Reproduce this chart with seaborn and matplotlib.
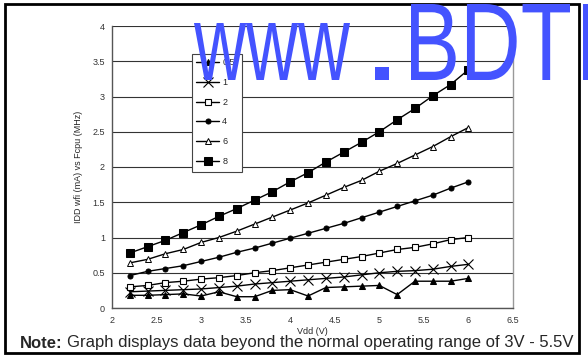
import numpy as np
import seaborn as sns
import matplotlib.pyplot as plt
import matplotlib.transforms as mtrans
from matplotlib.textpath import TextPath
from matplotlib.patches import PathPatch, Rectangle
from matplotlib.font_manager import FontProperties

# Vdd sweep (V) and IDD in wait mode (mA) for each Fcpu (MHz)
vdd = [2.2, 2.4, 2.6, 2.8, 3.0, 3.2, 3.4, 3.6, 3.8, 4.0,
       4.2, 4.4, 4.6, 4.8, 5.0, 5.2, 5.4, 5.6, 5.8, 6.0]
idd_05 = [0.18, 0.18, 0.19, 0.20, 0.17, 0.23, 0.16, 0.16, 0.25, 0.26,
          0.17, 0.29, 0.30, 0.31, 0.32, 0.19, 0.38, 0.38, 0.38, 0.42]
idd_1 = [0.23, 0.24, 0.25, 0.26, 0.27, 0.29, 0.31, 0.34, 0.36, 0.38,
         0.40, 0.42, 0.44, 0.47, 0.50, 0.52, 0.53, 0.55, 0.59, 0.62]
idd_2 = [0.30, 0.32, 0.36, 0.38, 0.41, 0.43, 0.46, 0.50, 0.53, 0.57,
         0.61, 0.65, 0.69, 0.73, 0.78, 0.83, 0.86, 0.91, 0.97, 1.00]
idd_4 = [0.46, 0.52, 0.56, 0.60, 0.66, 0.72, 0.79, 0.85, 0.92, 0.99,
         1.06, 1.13, 1.20, 1.28, 1.36, 1.44, 1.52, 1.60, 1.70, 1.79]
idd_6 = [0.64, 0.69, 0.77, 0.83, 0.93, 1.00, 1.09, 1.19, 1.29, 1.39,
         1.49, 1.60, 1.71, 1.81, 1.94, 2.05, 2.17, 2.29, 2.43, 2.56]
idd_8 = [0.78, 0.87, 0.96, 1.07, 1.18, 1.30, 1.41, 1.53, 1.65, 1.79,
         1.92, 2.07, 2.21, 2.35, 2.50, 2.67, 2.83, 3.01, 3.17, 3.38]
labels = ["0.5", "1", "2", "4", "6", "8"]

xticks = [2, 2.5, 3, 3.5, 4, 4.5, 5, 5.5, 6, 6.5]
xtick_labels = ["2", "2.5", "3", "3.5", "4", "4.5", "5", "5.5", "6", "6.5"]
yticks = [0, 0.5, 1, 1.5, 2, 2.5, 3, 3.5, 4]
ytick_labels = ["0", "0.5", "1", "1.5", "2", "2.5", "3", "3.5", "4"]

sns.set_style("white")
plt.rcParams['font.family'] = ['Liberation Sans', 'DejaVu Sans']

W, H = 588, 358
fig = plt.figure(figsize=(W / 100, H / 100), dpi=100)
ax = fig.add_axes([112 / W, 1 - 308 / H, (513 - 112) / W, (308 - 26) / H])

styles = [
    dict(marker='^', markersize=5, markerfacecolor='black', markeredgecolor='black'),
    dict(marker='x', markersize=6.5, markerfacecolor='black', markeredgecolor='black', markeredgewidth=0.8),
    dict(marker='s', markersize=5, markerfacecolor='white', markeredgecolor='black', markeredgewidth=0.8),
    dict(marker='o', markersize=3.6, markerfacecolor='black', markeredgecolor='black'),
    dict(marker='^', markersize=4.2, markerfacecolor='white', markeredgecolor='black', markeredgewidth=0.7),
    dict(marker='s', markersize=5.8, markerfacecolor='black', markeredgecolor='black'),
]
for lab, vals, st in zip(labels, [idd_05, idd_1, idd_2, idd_4, idd_6, idd_8], styles):
    sns.lineplot(x=vdd, y=vals, ax=ax, color='black', linewidth=1.0, label=lab, **st)

ax.set_xlim(2, 6.5)
ax.set_ylim(0, 4)
ax.set_xticks(xticks)
ax.set_xticklabels(xtick_labels)
ax.set_yticks(yticks)
ax.set_yticklabels(ytick_labels)
ax.tick_params(axis='both', labelsize=6.5, colors='#333333', direction='out',
               length=3, width=0.8, pad=2)
ax.tick_params(axis='x', pad=3)
ax.yaxis.grid(True, color='#333333', linewidth=0.8)
ax.set_axisbelow(True)
for side in ['left', 'bottom']:
    ax.spines[side].set_color('#555555')
    ax.spines[side].set_linewidth(1.0)
ax.spines['right'].set_color('#999999')
ax.spines['right'].set_linewidth(1.0)
ax.spines['top'].set_visible(False)

ax.set_xlabel("Vdd (V)", fontsize=6.5, labelpad=1.5)
ax.set_ylabel("IDD wfi (mA) vs Fcpu (MHz)", fontsize=6.5, labelpad=7)

# legend with a fixed box like the original
box = Rectangle((192 / W, 1 - 172 / H), 50 / W, 118 / H, transform=fig.transFigure,
                facecolor='white', edgecolor='#444444', linewidth=0.8,
                clip_on=False, zorder=4.9)
ax.add_patch(box)
leg = ax.legend(loc='upper left', bbox_to_anchor=(196 / W, 1 - 58 / H),
                bbox_transform=fig.transFigure, borderaxespad=0, borderpad=0,
                fontsize=6.5, frameon=False, handlelength=2.6, handletextpad=0.3,
                labelspacing=1.2)

# note at the bottom
note_y = 1 - 343 / H
t1 = fig.text(20 / W, note_y, "Note:", fontsize=12, fontweight='bold', va='center')
fig.canvas.draw()
bb = t1.get_window_extent()
fig.text((bb.x1 + 4) / W, note_y,
         "Graph displays data beyond the normal operating range of 3V - 5.5V",
         fontsize=12, va='center')

# outer frame
fig.add_artist(Rectangle((5 / W, 1 - 353 / H), (579 - 5) / W, (353 - 4) / H,
                         transform=fig.transFigure, fill=False,
                         edgecolor='black', linewidth=2.0, zorder=8))

# watermark, stretched tall
fp = FontProperties(family='Liberation Sans')


def stamp(s, x0, x1, top, bottom):
    tp = TextPath((0, 0), s, size=100, prop=fp)
    ext = tp.get_extents()
    sx = (x1 - x0) / ext.width
    sy = (bottom - top) / ext.height
    tr = (mtrans.Affine2D().translate(-ext.x0, -ext.y0).scale(sx, sy)
          .translate(x0, H - bottom).scale(1 / 100) + fig.dpi_scale_trans)
    fig.add_artist(PathPatch(tp, transform=tr, facecolor='#4453ff',
                             edgecolor='none', zorder=10))


stamp("www", 194, 350, 23, 80)
stamp(".", 375, 389, 67, 80)
stamp("BDT", 411, 570, 4, 80)
stamp("I", 583, 594, 4, 80)

fig.savefig("out.png", dpi=100)
